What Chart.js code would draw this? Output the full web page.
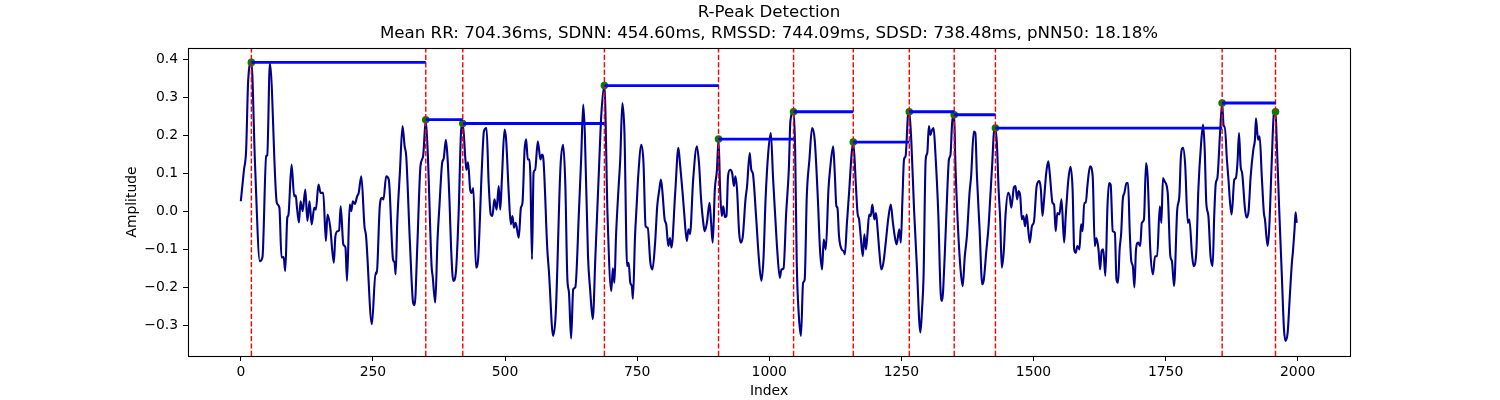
<!DOCTYPE html>
<html>
<head>
<meta charset="utf-8">
<script src="https://cdn.jsdelivr.net/npm/chart.js@4.4.1/dist/chart.umd.min.js"></script>
<style>
  html, body { margin: 0; padding: 0; background: #fff; }
  #chart { display: block; }
</style>
</head>
<body>
<canvas id="chart" width="1500" height="400"></canvas>
<script>
// signal turning points (sample index, amplitude)
const sigIdx = [
  0, 6, 10, 14, 20, 27, 36, 41, 48, 50, 55, 68, 73, 77, 81, 84, 88, 90, 96, 101,
  104, 106, 110, 113, 117, 122, 126, 130, 134, 139, 142, 147, 151, 156, 161, 164, 169, 176,
  179, 183, 186, 189, 194, 198, 201, 206, 209, 212, 216, 220, 223, 228, 234, 237, 248, 255,
  257, 263, 267, 270, 275, 280, 288, 291, 293, 296, 301, 306, 310, 313, 320, 326, 329, 334,
  340, 345, 350, 354, 361,
  363, 368, 372, 376, 381, 384, 388, 391, 395, 398, 402, 407, 412, 417, 420, 425, 427, 430,
  434, 437, 440, 445, 449, 456, 460, 465, 469, 473, 476, 480, 484, 488, 491, 494, 499, 502,
  507, 511, 514, 517, 520, 526, 530, 533, 537, 540, 543, 546,
  548, 551, 554, 557, 562, 567, 570, 573, 580, 583, 591, 596, 605, 610, 614, 618, 621, 625,
  629, 633, 640, 644, 648, 651, 657, 661, 666, 671, 678, 682, 688, 694, 701, 704, 707, 710,
  715, 718, 722, 726, 731,
  734, 737, 740, 742, 746, 749, 752, 758, 762, 766, 770, 775, 779, 784, 788, 792, 795, 798,
  802, 805, 809, 812, 815, 822, 828, 831, 836, 839, 844, 847, 850, 856, 863, 867, 871, 876,
  878, 882, 887, 890, 893, 897, 901, 904, 907, 910, 913, 916,
  919, 922, 926, 930, 933, 936, 939, 943, 946, 950, 955, 958, 963, 966, 969, 975, 980, 985,
  989, 993, 998, 1003, 1007, 1012, 1015, 1020, 1023, 1027, 1032, 1037, 1040, 1046, 1049,
  1052, 1056, 1060, 1064, 1067, 1071, 1076, 1081, 1086, 1092, 1096, 1100, 1103,
  1107, 1112, 1115, 1121, 1124, 1127, 1129, 1132, 1137, 1141, 1143, 1147, 1151, 1156, 1159,
  1164, 1167, 1170, 1173, 1177, 1180, 1183, 1186, 1189, 1192, 1195, 1199, 1202, 1205, 1208,
  1212, 1216, 1221, 1225, 1230, 1234, 1238, 1241, 1246, 1249, 1252, 1255, 1258, 1263, 1265,
  1269, 1274, 1279, 1286, 1289,
  1292, 1296, 1299, 1302, 1305, 1308, 1311, 1314, 1320, 1324, 1327, 1332, 1337, 1340, 1343,
  1346, 1350, 1352, 1357, 1362, 1366, 1370, 1374, 1379, 1382, 1387, 1390, 1393, 1398, 1403,
  1406, 1411, 1415, 1418, 1422, 1425, 1428, 1431, 1434, 1437, 1440, 1444, 1447, 1452, 1455,
  1458, 1463, 1466, 1469, 1472,
  1475, 1478, 1481, 1484, 1487, 1490, 1493, 1497, 1501, 1506, 1511, 1514, 1517, 1520, 1524,
  1528, 1531, 1536, 1539, 1542, 1545, 1549, 1553, 1558, 1561, 1566, 1570, 1574, 1577, 1580,
  1583, 1587, 1590, 1593, 1596, 1599, 1602, 1607, 1612, 1616, 1619, 1623, 1626, 1629, 1632,
  1636, 1640, 1643, 1646, 1650, 1654, 1657,
  1660, 1663, 1666, 1669, 1672, 1676, 1679, 1682, 1685, 1688, 1691, 1694, 1698, 1702, 1705,
  1709, 1713, 1716, 1721, 1726, 1730, 1734, 1739, 1742, 1745, 1748, 1754, 1759, 1762, 1766,
  1772, 1776, 1779, 1783, 1787, 1792, 1795, 1800, 1803, 1808, 1812, 1817, 1821, 1824, 1827,
  1831, 1835, 1839, 1842, 1845,
  1848, 1853, 1857, 1860, 1862, 1866, 1869, 1872, 1875, 1880, 1883, 1886, 1889, 1892, 1895,
  1900, 1903, 1907, 1911, 1916, 1919, 1921, 1925, 1928, 1932, 1936, 1938, 1943, 1946, 1951,
  1955, 1958, 1960, 1965, 1970, 1974, 1977, 1981, 1985, 1989, 1991, 1994, 1996, 1998
];
const sigVal = [
  0.027, 0.11, 0.16, 0.347, 0.393, 0.12, -0.131, -0.12, 0.146, 0.148, 0.391, 0.024, 0.01, -0.121, -0.12, -0.157, -0.016, -0.01, 0.124, 0.04,
  0.043, 0.014, -0.029, 0.027, 0.001, 0.058, -0.025, 0.027, -0.034, 0.01, 0.005, 0.071, 0.049, 0.049, -0.078, -0.008, -0.039, -0.135,
  -0.065, -0.052, -0.05, 0.014, -0.087, -0.095, -0.183, 0.018, 0.001, 0.027, 0.02, 0.04, 0.049, 0.093, -0.039, -0.065, -0.297, -0.161,
  -0.165, 0.014, 0.036, 0.032, 0.093, 0.084, -0.126, -0.135, -0.166, -0.03, 0.102, 0.225, 0.172, 0.146, -0.082, -0.24, -0.247, -0.09,
  0.12, 0.146, 0.242, 0.146, -0.144,
  -0.17, -0.24, -0.082, 0.018, 0.128, 0.14, 0.189, 0.146, 0.023, -0.1, -0.183, -0.16, -0.012, 0.216, 0.232, 0.137, 0.11, 0.13,
  0.058, 0.049, 0.062, -0.148, -0.126, 0.11, 0.211, 0.22, 0.075, -0.008, -0.012, 0.032, 0.005, 0.067, 0.005, 0.084, 0.216, 0.19,
  0.049, -0.034, -0.012, -0.043, -0.03, -0.069, 0.01, 0.023, 0.163, 0.19, 0.137, 0.137,
  0.093, -0.126, 0.102, 0.11, 0.185, 0.137, 0.15, 0.13, -0.1, -0.157, -0.328, -0.267, 0.12, 0.176, 0.075, -0.179, -0.214, -0.335,
  -0.205, -0.2, 0.005, 0.137, 0.282, 0.206, -0.118, -0.205, -0.284, -0.118, 0.12, 0.251, 0.332, -0.012, -0.21, -0.15, -0.188, -0.065,
  0.067, 0.137, 0.286, 0.206, -0.144,
  -0.135, -0.188, -0.197, -0.23, -0.065, 0.014, 0.093, 0.176, 0.128, -0.039, -0.043, -0.135, -0.153, -0.082, 0.014, 0.058, 0.084, 0.049,
  -0.021, -0.034, -0.091, -0.07, -0.095, 0.049, 0.168, 0.128, 0.049, -0.004, -0.078, -0.047, -0.06, 0.084, 0.172, 0.128, 0.032, -0.039,
  -0.052, -0.03, 0.023, -0.03, -0.082, 0.058, 0.11, 0.191, 0.058, -0.012, 0.014, -0.015,
  -0.012, 0.093, 0.11, 0.1, 0.067, 0.093, 0.058, -0.056, -0.082, -0.065, 0.032, 0.067, 0.154, 0.11, 0.1, -0.012, -0.118, -0.183,
  -0.126, 0.032, 0.154, 0.207, 0.093, -0.03, -0.1, -0.175, -0.153, -0.15, -0.004, 0.11, 0.238, 0.263, 0.163,
  -0.135, -0.275, -0.328, -0.188, -0.18, 0.04, 0.137, 0.22, 0.189, 0.032, -0.1, -0.153, -0.074,
  -0.1, 0.058, 0.11, 0.172, 0.1, 0.014, 0.01, -0.065, -0.1, -0.105, -0.113, -0.03, 0.049, 0.154, 0.183,
  0.067, -0.004, -0.021, -0.065, -0.118, -0.06, -0.1, -0.056, -0.008, -0.012, 0.018, -0.021, -0.004, -0.047, -0.1,
  -0.153, -0.135, -0.074, -0.021, 0.018, -0.03, -0.07, -0.087, -0.047, -0.082, 0.032, 0.137, 0.146, 0.26, 0.263,
  0.18, 0.005, -0.135, -0.319, -0.26,
  -0.17, 0.137, 0.154, 0.225, 0.202, 0.215, 0.22, 0.163, -0.012, -0.205, -0.236, -0.118, 0.058, 0.137, 0.15,
  0.233, 0.255, 0.137, -0.039, -0.153, -0.197, -0.118, -0.065, 0.049, 0.093, 0.211, 0.207, 0.093, -0.047, -0.192,
  -0.18, -0.1, -0.039, 0.032, 0.128, 0.207, 0.22, 0.172, 0.058, -0.021, -0.148, -0.1, -0.012, 0.049, 0.04,
  0.01, 0.064, 0.067, 0.032, 0.054,
  0.04, -0.021, -0.012, -0.039, -0.008, -0.047, -0.082, -0.039, -0.026, 0.067, 0.08, 0.058, -0.012, 0.032, 0.1,
  0.132, 0.097, 0.023, 0.018, -0.052, -0.004, -0.008, 0.032, -0.082, -0.012, 0.084, 0.118, 0.058, -0.1, -0.109,
  -0.091, -0.1, -0.034, -0.052, 0.023, 0.023, 0.067, 0.119, 0.093, -0.091, -0.07, -0.1, -0.153, -0.104, -0.1,
  -0.17, 0.014, 0.075, 0.071, -0.052, -0.056, -0.179,
  -0.188, -0.1, -0.056, 0.032, 0.049, 0.075, 0.075, -0.047, -0.13, -0.144, -0.2, -0.1, -0.082, -0.091, -0.03,
  -0.021, 0.128, 0.093, -0.1, -0.166, -0.118, -0.118, 0.014, -0.03, 0.088, 0.08, 0.049, -0.118, -0.131, -0.197,
  0.005, 0.04, 0.146, 0.168, 0.124, -0.03, -0.021, -0.113, -0.144, -0.109, 0.058, 0.176, 0.229, 0.163, 0.023,
  -0.012, -0.118, -0.144, -0.012, 0.075,
  0.088, 0.207, 0.286, 0.224, 0.224, 0.137, 0.084, 0.023, -0.008, 0.084, 0.088, 0.128, 0.207, 0.119, 0.1,
  0.01, -0.016, 0.001, 0.093, 0.163, 0.189, 0.246, 0.189, 0.198, 0.093, -0.004, -0.021, -0.091, -0.047, 0.137,
  0.26, 0.263, 0.198, 0.005, -0.17, -0.31, -0.341, -0.319, -0.225, -0.135, -0.105, -0.047, -0.002, -0.03
];

// detected R peaks
const peakIdx = [20, 350, 420, 688, 904, 1046, 1159, 1265, 1350, 1428, 1857, 1958];
const peakVal = [0.393, 0.242, 0.232, 0.332, 0.191, 0.263, 0.183, 0.263, 0.255, 0.22, 0.286, 0.263];

const xTicks = [0, 250, 500, 750, 1000, 1250, 1500, 1750, 2000];
const yTicks = [-0.3, -0.2, -0.1, 0.0, 0.1, 0.2, 0.3, 0.4];
const xRange = [-99.95, 2098.95];
const yRange = [-0.381, 0.431];

const titleLines = [
  'R-Peak Detection',
  'Mean RR: 704.36ms, SDNN: 454.60ms, RMSSD: 744.09ms, SDSD: 738.48ms, pNN50: 18.18%'
];

const FONT = "'DejaVu Sans', 'Liberation Sans', sans-serif";
Chart.defaults.color = '#000';
Chart.defaults.font.family = FONT;

// RR segments: from each peak to the next, at the height of the first one
const rrData = [];
for (let i = 0; i < peakIdx.length - 1; i++) {
  rrData.push({ x: peakIdx[i], y: peakVal[i] });
  rrData.push({ x: peakIdx[i + 1], y: peakVal[i] });
  rrData.push({ x: peakIdx[i + 1], y: null });
}

// vertical markers spanning the whole axis
const vData = [];
peakIdx.forEach(p => {
  vData.push({ x: p, y: yRange[0] });
  vData.push({ x: p, y: yRange[1] });
  vData.push({ x: p, y: null });
});

const frame = {
  id: 'frame',
  afterDatasetsDraw(chart) {
    const { ctx, chartArea: a } = chart;
    ctx.save();
    ctx.strokeStyle = '#000';
    ctx.lineWidth = 1.1;
    ctx.strokeRect(Math.round(a.left) + 0.5, Math.round(a.top) + 0.5,
      Math.round(a.right - a.left), Math.round(a.bottom - a.top));
    ctx.restore();
  }
};

const fmtY = v => (v < -1e-9 ? '\u2212' : '') + Math.abs(v).toFixed(1);

new Chart(document.getElementById('chart'), {
  type: 'line',
  data: {
    datasets: [
      {
        label: 'RR',
        data: rrData,
        borderColor: 'blue',
        borderWidth: 2.8,
        pointRadius: 0,
        spanGaps: false
      },
      {
        label: 'peaks line',
        data: vData,
        borderColor: 'red',
        borderWidth: 1.4,
        borderDash: [5.2, 2.2],
        pointRadius: 0,
        spanGaps: false
      },
      {
        label: 'R peaks',
        data: peakIdx.map((x, i) => ({ x, y: peakVal[i] })),
        showLine: false,
        pointRadius: 3.8,
        pointBackgroundColor: 'green',
        pointBorderWidth: 0,
        borderColor: 'green'
      },
      {
        label: 'signal',
        data: sigIdx.map((x, i) => ({ x, y: sigVal[i] })),
        borderColor: '#00008b',
        borderWidth: 2.1,
        pointRadius: 0,
        cubicInterpolationMode: 'monotone'
      }
    ]
  },
  options: {
    responsive: false,
    devicePixelRatio: 1,
    animation: false,
    events: [],
    layout: { padding: { left: 124, right: 150, top: 0, bottom: 0 } },
    plugins: {
      legend: { display: false },
      tooltip: { enabled: false },
      title: {
        display: true,
        fullSize: false,
        text: titleLines,
        color: '#000',
        font: { family: FONT, size: 16.67, weight: 'normal', lineHeight: 1.26 },
        padding: { top: 2.5, bottom: 3.5 }
      }
    },
    scales: {
      x: {
        type: 'linear',
        min: xRange[0],
        max: xRange[1],
        afterBuildTicks: s => { s.ticks = xTicks.map(v => ({ value: v })); },
        afterFit: s => { s.height = 44; },
        grid: { drawOnChartArea: false, drawTicks: true, tickLength: 5, color: '#000' },
        border: { display: false },
        ticks: {
          autoSkip: false, maxRotation: 0, padding: 3, color: '#000',
          font: { family: FONT, size: 13.9 },
          callback: v => String(v)
        },
        title: {
          display: true, text: 'Index', color: '#000',
          font: { family: FONT, size: 13.9 }, padding: 0
        }
      },
      y: {
        type: 'linear',
        min: yRange[0],
        max: yRange[1],
        afterBuildTicks: s => { s.ticks = yTicks.map(v => ({ value: v })); },
        afterFit: s => { s.width = 64; },
        grid: { drawOnChartArea: false, drawTicks: true, tickLength: 5, color: '#000' },
        border: { display: false },
        ticks: {
          padding: 5, color: '#000',
          font: { family: FONT, size: 13.9 },
          callback: v => fmtY(v)
        },
        title: {
          display: true, text: 'Amplitude', color: '#000',
          font: { family: FONT, size: 13.9 }, padding: 0
        }
      }
    }
  },
  plugins: [frame]
});
</script>
</body>
</html>
